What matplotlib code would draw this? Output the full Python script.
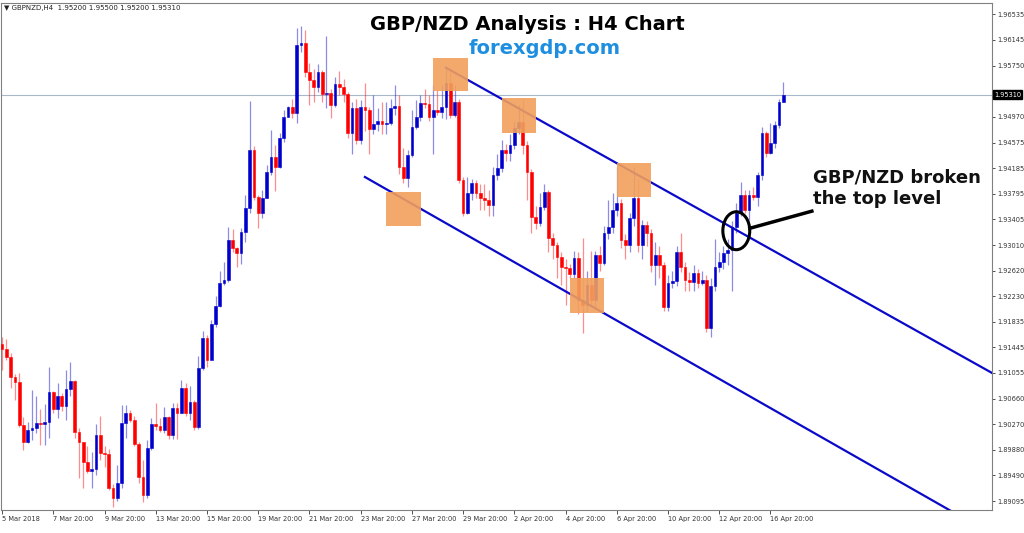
import numpy as np
import matplotlib
matplotlib.use("Agg")
import matplotlib.pyplot as plt
from matplotlib.patches import Rectangle, Ellipse

# H4 candles, prices in pips (x 1e-4)
first_open = 19150
close_pips = [
    19142, 19130, 19099, 19092, 19026, 19000, 19018, 19021, 19029, 19027,
    19030, 19076, 19050, 19070, 19055, 19081, 19093, 19015, 19000, 18969,
    18955, 18958, 19010, 18983, 18981, 18929, 18914, 18937, 19029, 19044,
    19033, 18997, 18946, 18919, 18991, 19027, 19024, 19018, 19038, 19010,
    19052, 19044, 19082, 19044, 19061, 19023, 19113, 19159, 19125, 19180,
    19208, 19243, 19248, 19309, 19297, 19289, 19321, 19358, 19446, 19375,
    19350, 19373, 19413, 19436, 19420, 19465, 19497, 19512, 19503, 19607,
    19610, 19566, 19554, 19543, 19566, 19532, 19534, 19515, 19547, 19543,
    19532, 19473, 19511, 19462, 19512, 19508, 19479, 19486, 19491, 19486,
    19488, 19511, 19514, 19420, 19404, 19439, 19482, 19497, 19518, 19516,
    19497, 19508, 19505, 19512, 19549, 19500, 19520, 19401, 19350, 19381,
    19396, 19381, 19373, 19370, 19362, 19408, 19419, 19446, 19442, 19454,
    19480, 19489, 19454, 19413, 19344, 19335, 19359, 19382, 19312, 19301,
    19283, 19267, 19266, 19257, 19281, 19217, 19209, 19240, 19217, 19286,
    19274, 19320, 19329, 19355, 19365, 19309, 19301, 19342, 19373, 19301,
    19332, 19320, 19271, 19286, 19271, 19206, 19243, 19246, 19290, 19267,
    19248, 19245, 19258, 19243, 19248, 19174, 19238, 19267, 19275, 19289,
    19293, 19329, 19350, 19378, 19355, 19378, 19375, 19408, 19473, 19442,
    19457, 19485, 19520, 19531,
]
high_pips = [
    19160, 19158, 19136, 19104, 19105, 19038, 19030, 19080, 19071, 19050,
    19058, 19114, 19078, 19090, 19075, 19110, 19122, 19095, 19021, 19000,
    18994, 18985, 19028, 19040, 18994, 18990, 18935, 18965, 19056, 19056,
    19049, 19040, 19000, 18973, 19003, 19036, 19060, 19036, 19053, 19040,
    19060, 19060, 19095, 19090, 19085, 19064, 19131, 19170, 19164, 19186,
    19223, 19261, 19275, 19329, 19326, 19298, 19327, 19377, 19521, 19453,
    19378, 19385, 19424, 19477, 19454, 19472, 19508, 19514, 19525, 19633,
    19636, 19630, 19580, 19570, 19578, 19568, 19620, 19540, 19558, 19567,
    19555, 19535, 19520, 19525, 19522, 19549, 19512, 19530, 19510, 19520,
    19520, 19525, 19545, 19530, 19450, 19446, 19508, 19523, 19530, 19540,
    19530, 19545, 19538, 19545, 19570, 19569, 19545, 19525, 19405, 19405,
    19402, 19400, 19395, 19395, 19385, 19420, 19440, 19462, 19455, 19470,
    19490, 19515, 19525, 19460, 19418, 19360, 19380, 19395, 19385, 19320,
    19305, 19290, 19280, 19272, 19292, 19290, 19312, 19262, 19292, 19292,
    19300, 19330, 19370, 19380, 19420, 19372, 19318, 19350, 19420, 19402,
    19340, 19338, 19325, 19305, 19300, 19275, 19255, 19262, 19300, 19320,
    19275, 19260, 19270, 19265, 19262, 19255, 19250, 19310, 19290, 19300,
    19310, 19338, 19365, 19398, 19385, 19385, 19390, 19412, 19482, 19475,
    19488, 19490, 19525, 19550,
]
low_pips = [
    19110, 19125, 19083, 19064, 19023, 18988, 18998, 19003, 19013, 18995,
    18995, 19006, 19045, 19036, 19047, 19033, 19071, 19006, 18945, 18930,
    18952, 18930, 18950, 18972, 18962, 18926, 18900, 18910, 18930, 19006,
    19030, 18994, 18938, 18908, 18915, 18987, 19018, 19015, 19013, 19005,
    19005, 19005, 19045, 19040, 19033, 19018, 19020, 19110, 19115, 19150,
    19176, 19206, 19240, 19245, 19290, 19268, 19272, 19305, 19350, 19370,
    19327, 19343, 19373, 19408, 19384, 19419, 19459, 19503, 19495, 19488,
    19596, 19558, 19515, 19520, 19535, 19520, 19510, 19495, 19512, 19530,
    19520, 19465, 19440, 19455, 19455, 19475, 19440, 19470, 19475, 19470,
    19470, 19485, 19500, 19410, 19396, 19390, 19436, 19478, 19490, 19510,
    19490, 19440, 19500, 19495, 19494, 19495, 19497, 19396, 19345, 19348,
    19370, 19373, 19355, 19355, 19345, 19345, 19400, 19413, 19430, 19430,
    19448, 19470, 19440, 19370, 19320, 19325, 19330, 19355, 19290, 19280,
    19250, 19240, 19210, 19250, 19250, 19195, 19166, 19200, 19210, 19205,
    19262, 19270, 19310, 19320, 19345, 19296, 19280, 19290, 19330, 19290,
    19280, 19300, 19260, 19240, 19250, 19200, 19200, 19235, 19238, 19260,
    19230, 19230, 19230, 19235, 19240, 19168, 19160, 19230, 19260, 19265,
    19270, 19230, 19320, 19345, 19350, 19340, 19370, 19360, 19400, 19436,
    19440, 19450, 19480, 19520,
]

x_labels = ["5 Mar 2018", "7 Mar 20:00", "9 Mar 20:00", "13 Mar 20:00", "15 Mar 20:00",
            "19 Mar 20:00", "21 Mar 20:00", "23 Mar 20:00", "27 Mar 20:00", "29 Mar 20:00",
            "2 Apr 20:00", "4 Apr 20:00", "6 Apr 20:00", "10 Apr 20:00", "12 Apr 20:00",
            "16 Apr 20:00"]
y_ticks = [1.96535, 1.96145, 1.95750, 1.94970, 1.94575, 1.94185, 1.93795, 1.93405,
           1.93010, 1.92620, 1.92230, 1.91835, 1.91445, 1.91055, 1.90660, 1.90270,
           1.89880, 1.89490, 1.89095]
last_price = 1.95310

# channel lines (candle index, price)
upper_line = ([104, 231.9], [1.9572, 1.91055])
lower_line = ([85, 226.2], [1.9405, 1.8880])
# orange boxes: (x0, x1, y0, y1)
boxes = [(100.9, 109.1, 1.95366, 1.95871), (117.1, 125.1, 1.94722, 1.95259),
         (89.9, 98.1, 1.93297, 1.93818), (144.0, 152.0, 1.93742, 1.94263),
         (133.0, 141.0, 1.91965, 1.92501)]

close = np.array(close_pips) / 1e4
high = np.array(high_pips) / 1e4
low = np.array(low_pips) / 1e4
opn = np.concatenate([[first_open / 1e4], close[:-1]])

fig = plt.figure(figsize=(10.24, 5.33), dpi=100)
ax = fig.add_axes([1 / 1024, 23 / 533, 991 / 1024, 507 / 533])
ax.set_xlim(-0.25, 231.9)
ax.set_ylim(1.8896, 1.9671)

for i in range(len(close)):
    up = close[i] >= opn[i]
    col = "#0000cd" if up else "#ff0000"
    ax.vlines(i, low[i], high[i], color=col, lw=0.9, alpha=0.45, zorder=2)
    b0, b1 = min(opn[i], close[i]), max(opn[i], close[i])
    ax.add_patch(Rectangle((i - 0.32, b0), 0.64, max(b1 - b0, 0.00005),
                           facecolor=col, edgecolor=col, lw=0.4, zorder=3))

ax.axhline(last_price, color="#a9b8c9", lw=0.8, zorder=1)
ax.plot(*upper_line, color="#0a0ac8", lw=1.6, zorder=4)
ax.plot(*lower_line, color="#0a0ac8", lw=1.6, zorder=4)
for x0, x1, y0, y1 in boxes:
    ax.add_patch(Rectangle((x0, y0), x1 - x0, y1 - y0, facecolor="#f2a05c",
                           edgecolor="none", alpha=0.9, zorder=5))

ax.add_patch(Ellipse((172.0, 1.93229), 6.3, 0.0058, fill=False, edgecolor="black",
                     lw=2.2, zorder=6))
ax.plot([175.2, 189.7], [1.93267, 1.93528], color="black", lw=2.5, zorder=6)
ax.text(190.0, 1.9388, "GBP/NZD broken\nthe top level", fontsize=13,
        fontweight="bold", color="#111111", va="center", ha="left", linespacing=1.25)

fig.text(527 / 1024, 1 - 25 / 533, "GBP/NZD Analysis : H4 Chart", fontsize=14,
         fontweight="bold", ha="center", va="center")
fig.text(545 / 1024, 1 - 49 / 533, "forexgdp.com", fontsize=14, fontweight="bold",
         color="#1e8fe0", ha="center", va="center")
fig.text(4 / 1024, 1 - 8 / 533, "\u25bc GBPNZD,H4  1.95200 1.95500 1.95200 1.95310",
         fontsize=5, color="#222222", va="center")

ax.yaxis.tick_right()
ax.set_yticks(y_ticks)
ax.set_yticklabels(["%.5f" % v for v in y_ticks], fontsize=4.8)
ax.tick_params(axis="y", length=2.5, width=0.6, pad=1.5, colors="#333333")
ax.set_xticks(np.arange(0, 12 * len(x_labels), 12))
ax.set_xticklabels(x_labels, fontsize=4.8, ha="left")
ax.tick_params(axis="x", length=3, width=0.6, pad=1, colors="#333333")
for s in ax.spines.values():
    s.set_color("#808080")
    s.set_linewidth(0.8)

ax.text(1.002, last_price, "1.95310", transform=ax.get_yaxis_transform(),
        fontsize=4.8, color="white", va="center", ha="left",
        bbox=dict(boxstyle="square,pad=0.2", facecolor="black", edgecolor="black"),
        zorder=10, clip_on=False)

fig.savefig("out.png", dpi=100)
